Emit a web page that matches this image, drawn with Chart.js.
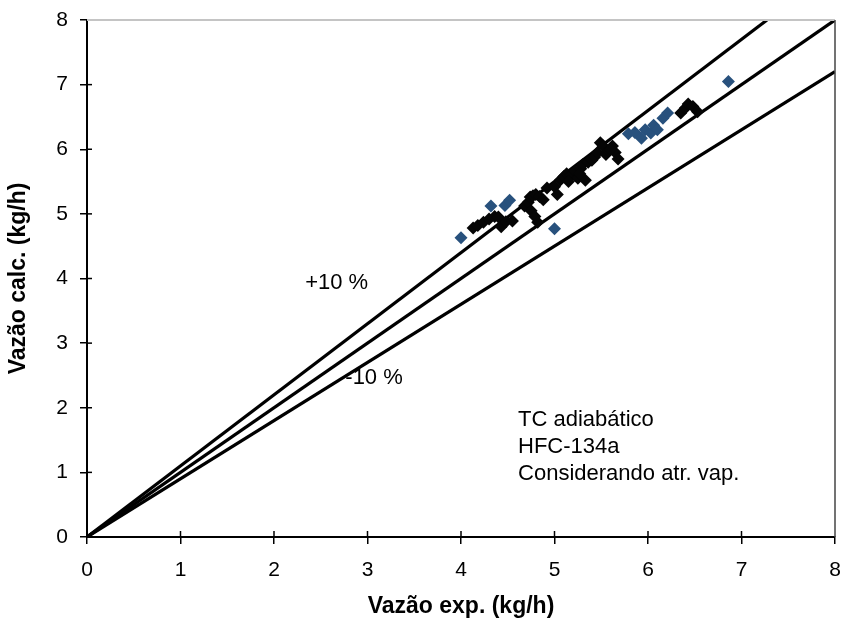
<!DOCTYPE html>
<html><head><meta charset="utf-8">
<script src="https://cdn.jsdelivr.net/npm/chart.js@4/dist/chart.umd.min.js"></script>
<style>html,body{margin:0;padding:0;background:#fff}</style>
</head><body>
<canvas id="c" width="846" height="627"></canvas>
<script>
// ---- data ----
const blackX = [4.13,4.18,4.24,4.30,4.36,4.40,4.43,4.48,4.55,4.68,4.72,4.74,4.77,4.80,4.84,4.88,4.75,4.79,4.82,4.92,5.00,5.03,5.06,5.10,5.13,5.18,5.22,5.25,5.28,5.30,5.33,5.36,5.40,5.43,5.46,5.49,5.52,5.55,5.58,5.62,5.65,5.68,5.60,5.27,5.15,6.35,6.40,6.43,6.48,6.53];
const blackY = [4.78,4.82,4.87,4.92,4.96,4.95,4.80,4.88,4.89,5.12,5.18,5.26,5.28,5.30,5.27,5.22,5.05,4.96,4.87,5.40,5.42,5.30,5.52,5.58,5.62,5.60,5.66,5.55,5.70,5.76,5.52,5.80,5.83,5.88,5.95,6.10,6.05,5.92,5.98,6.05,5.95,5.85,6.00,5.62,5.50,6.56,6.64,6.70,6.66,6.58];
const blueX = [4.00,4.32,4.47,4.52,5.00,5.79,5.86,5.93,5.97,6.03,6.06,6.10,6.16,6.21,6.86];
const blueY = [4.63,5.12,5.13,5.21,4.77,6.24,6.26,6.17,6.30,6.25,6.37,6.30,6.48,6.56,7.05];
const refSlopes = [1.1, 1.0, 0.9];          // +10 %, 0 %, -10 % lines
const axisMin = 0, axisMax = 8;
const tickLabels = ['0','1','2','3','4','5','6','7','8'];
const xTitle = 'Vazão exp. (kg/h)';
const yTitle = 'Vazão calc. (kg/h)';
const noteTexts = ['+10 %', '-10 %'];
const infoLines = ['TC adiabático', 'HFC-134a', 'Considerando atr. vap.'];

// ---- build ----
const toPts = (xs, ys) => xs.map((x, i) => ({x, y: ys[i]}));
const refLines = refSlopes.map(s => {
  const xe = Math.min(axisMax, axisMax / s);
  return [{x: 0, y: 0}, {x: xe, y: s * xe}];
});

const FONT = "'Liberation Sans', Arial, sans-serif";

const decor = {
  id: 'decor',
  afterDraw(chart) {
    const {ctx, chartArea: a, scales: {x, y}} = chart;
    ctx.save();
    // top and right frame
    ctx.strokeStyle = '#c4c4c4'; ctx.lineWidth = 2;
    ctx.beginPath(); ctx.moveTo(a.left, a.top); ctx.lineTo(a.right, a.top); ctx.stroke();
    ctx.strokeStyle = '#444'; ctx.lineWidth = 1.5;
    ctx.beginPath(); ctx.moveTo(a.right, a.top); ctx.lineTo(a.right, a.bottom); ctx.stroke();
    // inner tick parts
    ctx.strokeStyle = '#000'; ctx.lineWidth = 1.5;
    tickLabels.forEach((t) => {
      const v = Number(t);
      const px = x.getPixelForValue(v), py = y.getPixelForValue(v);
      if (v > 0 && v < axisMax) {
        ctx.beginPath(); ctx.moveTo(px, a.bottom); ctx.lineTo(px, a.bottom - 6); ctx.stroke();
        ctx.beginPath(); ctx.moveTo(a.left, py); ctx.lineTo(a.left + 5, py); ctx.stroke();
      }
    });
    // notes
    ctx.fillStyle = '#000';
    ctx.font = "22px " + FONT;
    ctx.textAlign = 'center'; ctx.textBaseline = 'middle';
    ctx.fillText(noteTexts[0], x.getPixelForValue(2.67), y.getPixelForValue(3.93));
    ctx.fillText(noteTexts[1], x.getPixelForValue(3.07), y.getPixelForValue(2.46));
    ctx.textAlign = 'left';
    const ys = [1.81, 1.39, 0.98];
    infoLines.forEach((t, i) => ctx.fillText(t, x.getPixelForValue(4.61), y.getPixelForValue(ys[i])));
    ctx.restore();
  }
};

const axisCommon = (title, isX) => ({
  type: 'linear', min: axisMin, max: axisMax,
  ticks: {stepSize: 1, color: '#000', font: {family: FONT, size: 21}, padding: isX ? 14 : 12,
          callback: (v) => tickLabels[v] !== undefined ? tickLabels[v] : ''},
  grid: {drawOnChartArea: false, drawTicks: true, tickLength: 7, color: '#000', lineWidth: 1.5},
  border: {display: true, color: '#000', width: 2},
  title: {display: true, text: title, color: '#000', font: {family: FONT, size: 23, weight: 'bold'},
          padding: isX ? {top: 0, bottom: 7} : {top: 5, bottom: 0}},
  afterFit: (s) => {
    if (isX) s.height = 90; else s.width = 87;
    s.paddingLeft = 0; s.paddingRight = 0; s.paddingTop = 0; s.paddingBottom = 0;
  }
});

new Chart(document.getElementById('c'), {
  type: 'scatter',
  data: {
    datasets: [
      {label: 'blue', data: toPts(blueX, blueY), pointStyle: 'rectRot', pointRadius: 6.5,
       backgroundColor: '#28517d', borderWidth: 0},
      {label: 'black', data: toPts(blackX, blackY), pointStyle: 'rectRot', pointRadius: 6.5,
       backgroundColor: '#050505', borderWidth: 0},
      ...refLines.map((d, i) => ({label: 'ref' + i, type: 'line', data: d, borderColor: '#000',
        borderWidth: 3.2, pointRadius: 0, fill: false}))
    ]
  },
  options: {
    responsive: false, animation: false, devicePixelRatio: 1,
    layout: {padding: {top: 20, right: 11, left: 0, bottom: 0}},
    plugins: {legend: {display: false}, tooltip: {enabled: false}},
    scales: {x: axisCommon(xTitle, true), y: axisCommon(yTitle, false)}
  },
  plugins: [decor]
});
</script>
</body></html>
